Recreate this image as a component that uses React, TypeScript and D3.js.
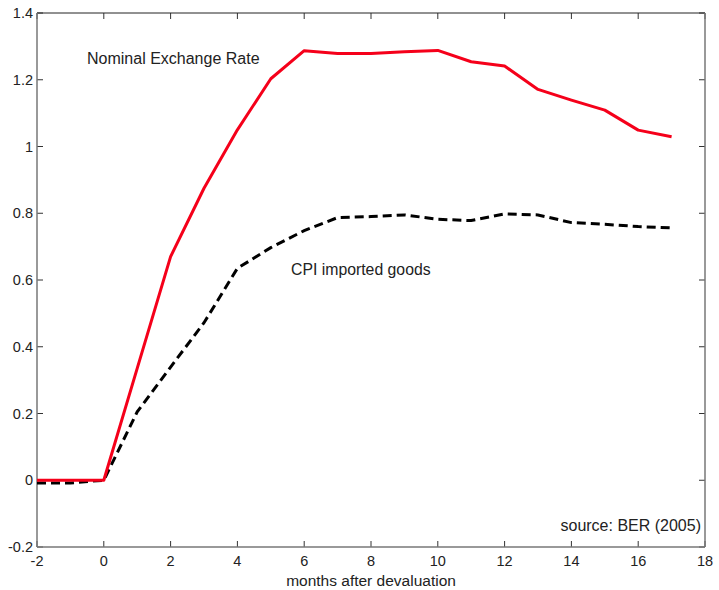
import React from "react";
import * as d3 from "d3";

const months = [-2, -1, 0, 1, 2, 3, 4, 5, 6, 7, 8, 9, 10, 11, 12, 13, 14, 15, 16, 17];
const nominalExchangeRate = [0, 0, 0, 0.335, 0.67, 0.875, 1.05, 1.203, 1.287, 1.279, 1.279, 1.284, 1.288, 1.254, 1.241, 1.171, 1.139, 1.109, 1.049, 1.029];
const cpiImported = [-0.008, -0.008, 0, 0.205, 0.339, 0.472, 0.635, 0.697, 0.748, 0.787, 0.79, 0.795, 0.782, 0.778, 0.798, 0.795, 0.772, 0.767, 0.76, 0.756];
const xTicks = [-2, 0, 2, 4, 6, 8, 10, 12, 14, 16, 18];
const yTicks = [-0.2, 0, 0.2, 0.4, 0.6, 0.8, 1, 1.2, 1.4];

export default function App() {
  const W = 719, H = 590;
  const left = 37, right = 705, top = 13, bottom = 547;
  const x = d3.scaleLinear().domain([-2, 18]).range([left, right]);
  const y = d3.scaleLinear().domain([-0.2, 1.4]).range([bottom, top]);
  const line = d3.line<number>().x((_, i) => x(months[i])).y((d) => y(d));
  const font = "'Liberation Sans', Arial, Helvetica, sans-serif";
  const tickLen = 6;
  const fmt = (v: number) => (Math.abs(v) < 1e-9 ? "0" : String(+v.toFixed(1)));
  return (
    <svg width={W} height={H} style={{ position: "absolute", left: 0, top: 0, background: "#fff" }} fontFamily={font}>
      {/* ticks */}
      {xTicks.map((t) => (
        <g key={"xt" + t}>
          <line x1={x(t)} x2={x(t)} y1={bottom} y2={bottom - tickLen} stroke="#333" strokeWidth={1} />
          <line x1={x(t)} x2={x(t)} y1={top} y2={top + tickLen} stroke="#333" strokeWidth={1} />
          <text x={x(t)} y={565.5} textAnchor="middle" fontSize={14.5} fill="#222">{fmt(t)}</text>
        </g>
      ))}
      {yTicks.map((t) => (
        <g key={"yt" + t}>
          <line x1={left} x2={left + tickLen} y1={y(t)} y2={y(t)} stroke="#333" strokeWidth={1} />
          <line x1={right} x2={right - tickLen} y1={y(t)} y2={y(t)} stroke="#333" strokeWidth={1} />
          <text x={33} y={y(t)} dy="0.35em" textAnchor="end" fontSize={14.5} fill="#222">{fmt(t)}</text>
        </g>
      ))}
      {/* frame */}
      <line x1={left} x2={right} y1={top} y2={top} stroke="#222" strokeWidth={1} />
      <line x1={left} x2={left} y1={top} y2={bottom} stroke="#777" strokeWidth={1.5} />
      <line x1={right} x2={right} y1={top} y2={bottom} stroke="#777" strokeWidth={1.5} />
      <line x1={left} x2={right} y1={bottom} y2={bottom} stroke="#777" strokeWidth={1.5} />
      {/* series */}
      <path d={line(cpiImported) || ""} fill="none" stroke="#000" strokeWidth={3} strokeDasharray="9,5" />
      <path d={line(nominalExchangeRate) || ""} fill="none" stroke="#f5001a" strokeWidth={3} strokeLinejoin="round" />
      {/* annotations */}
      <text x={87} y={64} fontSize={16} fill="#222">Nominal Exchange Rate</text>
      <text x={291} y={275} fontSize={15.8} fill="#222">CPI imported goods</text>
      <text x={701} y={531} textAnchor="end" fontSize={16} fill="#222">source: BER (2005)</text>
      <text x={(left + right) / 2} y={586} textAnchor="middle" fontSize={15.5} fill="#222">months after devaluation</text>
    </svg>
  );
}
